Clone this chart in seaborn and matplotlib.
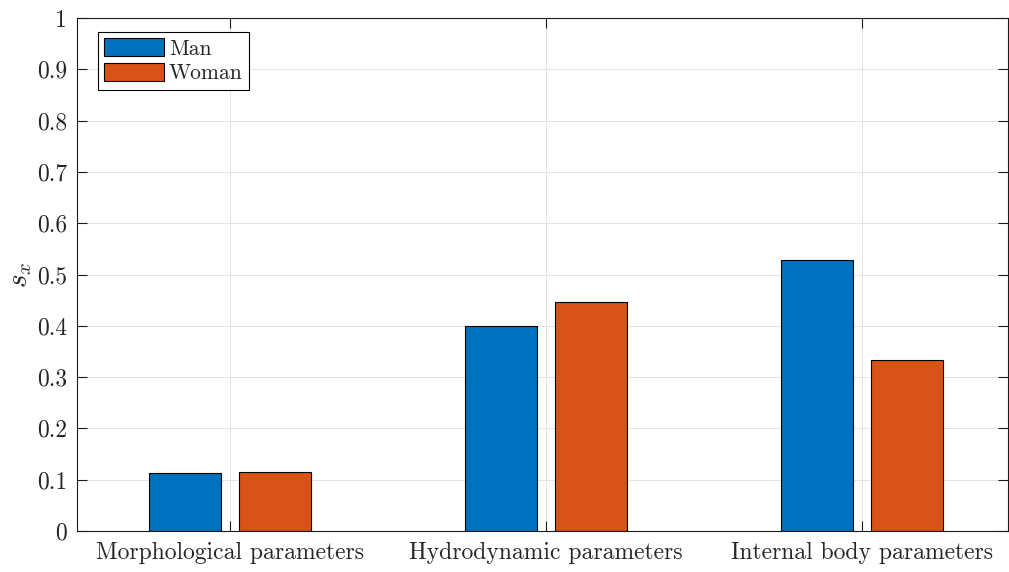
import pandas as pd
import numpy as np
import seaborn as sns
import matplotlib.pyplot as plt
from matplotlib.ticker import FuncFormatter

# values
categories = ['Morphological parameters', 'Hydrodynamic parameters', 'Internal body parameters']
man = [0.113, 0.400, 0.528]
woman = [0.115, 0.447, 0.333]
groups = ['Man', 'Woman']
colors = ['#0072BD', '#D95319']

df = pd.DataFrame({
    'category': categories * 2,
    'value': man + woman,
    'group': ['Man'] * 3 + ['Woman'] * 3,
})

sns.set_style('ticks')
plt.rcParams['font.family'] = ['cmr10', 'DejaVu Serif']
plt.rcParams['mathtext.fontset'] = 'cm'
plt.rcParams['axes.formatter.use_mathtext'] = True

fig = plt.figure(figsize=(10.09, 5.72), dpi=100)
ax = fig.add_axes([77 / 1009, 41 / 572, 931 / 1009, 513 / 572])

sns.barplot(data=df, x='category', y='value', hue='group', hue_order=groups,
            palette=colors, width=0.57, gap=0.2, edgecolor='black', linewidth=0.8,
            saturation=1, ax=ax)

ax.set_xlim(-0.484, 2.462)
ax.set_ylim(0, 1)
ax.set_yticks(np.arange(0, 1.01, 0.1))
ax.yaxis.set_major_formatter(FuncFormatter(lambda v, p: f'{v:g}'))
ax.set_xlabel('')
ax.set_ylabel('$s_x$', fontsize=21, labelpad=2)
ax.tick_params(direction='in', top=True, right=True, length=7, width=0.8,
               labelsize=17, color='#1a1a1a')
ax.tick_params(axis='x', pad=8)
ax.tick_params(axis='y', pad=7)
ax.grid(True, color='#e3e3e3', linewidth=0.7)
ax.set_axisbelow(True)
for s in ax.spines.values():
    s.set_linewidth(0.8)
    s.set_color('#1a1a1a')

leg = ax.legend(loc='upper left', bbox_to_anchor=(0.0225, 0.973), fontsize=15.5,
                handlelength=2.75, handleheight=0.9, handletextpad=0.25,
                labelspacing=0.2, borderpad=0.3, borderaxespad=0,
                fancybox=False, framealpha=1, edgecolor='black')
leg.get_frame().set_linewidth(0.8)

fig.savefig('out.png', dpi=100)
